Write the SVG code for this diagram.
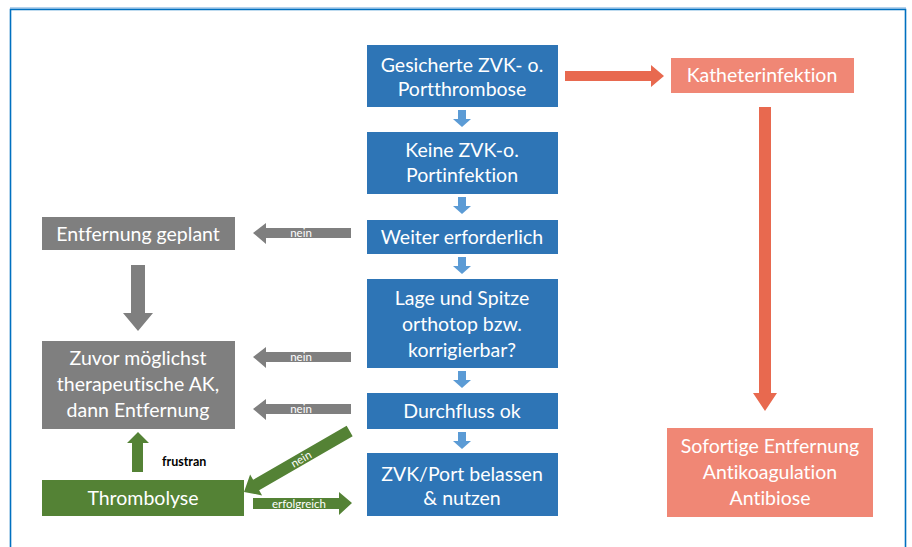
<svg xmlns="http://www.w3.org/2000/svg" width="912" height="547" viewBox="0 0 912 547">
<style>
.t{font-family:Lato,"Noto Sans","Liberation Sans",sans-serif;font-size:19.5px;fill:#fff;text-anchor:middle;font-variant-ligatures:none}
.s{font-family:Lato,"Noto Sans","Liberation Sans",sans-serif;font-size:11.5px;fill:#fff;text-anchor:middle}
.blue{fill:#2e75b6}
.gray{fill:#7f7f7f}
.green{fill:#548235}
.salmon{fill:#f08775}
.la{fill:#5b9bd5}
</style>
<rect width="912" height="547" fill="#fff"/>
<g id="frame">
<line x1="10" y1="8" x2="906" y2="8" stroke="#9dc3e6" stroke-width="1.5"/>
<path d="M10.5 560 V9.5 H905.5 V560" fill="none" stroke="#0070c0" stroke-width="1.6"/>
</g>
<g id="n1"><rect class="blue" x="367" y="45" width="191" height="62"/><text class="t" x="462" y="72">Gesicherte ZVK- o.</text><text class="t" x="462" y="96">Portthrombose</text></g>
<g id="n2"><rect class="blue" x="367" y="132" width="191" height="62"/><text class="t" x="462" y="157">Keine ZVK-o.</text><text class="t" x="462" y="182">Portinfektion</text></g>
<g id="n3"><rect class="blue" x="367" y="220" width="191" height="34"/><text class="t" x="462" y="244">Weiter erforderlich</text></g>
<g id="n4"><rect class="blue" x="367" y="279" width="191" height="89"/><text class="t" x="462" y="305">Lage und Spitze</text><text class="t" x="462" y="331">orthotop bzw.</text><text class="t" x="462" y="357">korrigierbar?</text></g>
<g id="n5"><rect class="blue" x="367" y="393" width="191" height="36"/><text class="t" x="462" y="418">Durchfluss ok</text></g>
<g id="n6"><rect class="blue" x="367" y="453" width="191" height="63"/><text class="t" x="462" y="481">ZVK/Port belassen</text><text class="t" x="462" y="505">&amp; nutzen</text></g>
<g id="n7"><rect class="salmon" x="671" y="58" width="183" height="35"/><text class="t" x="762" y="82">Katheterinfektion</text></g>
<g id="n8"><rect class="salmon" x="667" y="428" width="206" height="89"/><text class="t" x="770" y="453">Sofortige Entfernung</text><text class="t" x="770" y="479">Antikoagulation</text><text class="t" x="770" y="505">Antibiose</text></g>
<g id="n9"><rect class="gray" x="42" y="217" width="193" height="33"/><text class="t" x="138" y="241">Entfernung geplant</text></g>
<g id="n10"><rect class="gray" x="42" y="341" width="193" height="88"/><text class="t" x="138" y="365">Zuvor möglichst</text><text class="t" x="138" y="391">therapeutische AK,</text><text class="t" x="138" y="417">dann Entfernung</text></g>
<g id="n11"><rect class="green" x="42" y="480" width="202" height="36"/><text class="t" x="143" y="505">Thrombolyse</text></g>
<g id="connectors">
<path class="la" d="M458 110 h8 v9 h5 l-9 8 l-9 -8 h5 z"/>
<path class="la" d="M458 197 h8 v9 h5 l-9 8 l-9 -8 h5 z"/>
<path class="la" d="M458 257 h8 v9 h5 l-9 8 l-9 -8 h5 z"/>
<path class="la" d="M458 371 h8 v9 h5 l-9 8 l-9 -8 h5 z"/>
<path class="la" d="M458 432 h8 v9 h5 l-9 8 l-9 -8 h5 z"/>
<path fill="#e8694f" d="M565 71 H651 V65 L664 76 L651 87 V81 H565 Z"/>
<path fill="#e8694f" d="M759 107 H771 V393 H777 L765 411 L753 393 H759 Z"/>
<path class="gray" d="M351 228 H266 V223 L253 233 L266 244 V238 H351 Z"/>
<text class="s" x="301" y="237">nein</text>
<path class="gray" d="M351 352 H266 V347 L253 357 L266 368 V362 H351 Z"/>
<text class="s" x="301" y="361">nein</text>
<path class="gray" d="M351 404 H266 V399 L253 409 L266 420 V414 H351 Z"/>
<text class="s" x="301" y="413">nein</text>
<path class="gray" d="M131 265 H145 V313 H153 L138 331 L123 313 H131 Z"/>
<path class="green" d="M132 472 V443 H127 L138 432 L149 443 H143 V472 Z"/>
<text x="162" y="466" font-family="Lato,'Liberation Sans',sans-serif" font-size="12.5" font-weight="bold" fill="#000">frustran</text>
<g transform="translate(244 492) rotate(-30)">
<path class="green" d="M0 0 L14 -12 V-6 H122 V6 H14 V12 Z"/>
<text class="s" x="66" y="4">nein</text>
</g>
<path class="green" d="M253 498 H339 V492 L352 503 L339 515 V509 H253 Z"/>
<text class="s" x="299" y="507.5">erfolgreich</text>
</g>
</svg>
